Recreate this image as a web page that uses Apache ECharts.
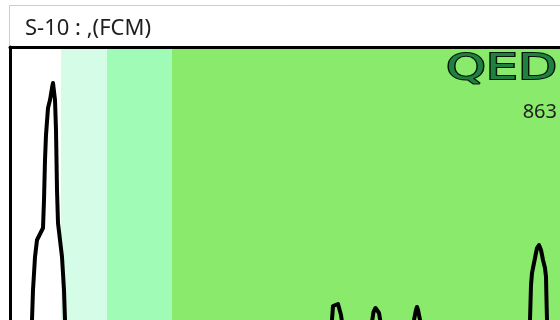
<!DOCTYPE html>
<html>
<head>
<meta charset="utf-8">
<script src="https://cdn.jsdelivr.net/npm/echarts@6/dist/echarts.min.js"></script>
<style>
html, body { margin: 0; padding: 0; background: #fff; }
#main { width: 560px; height: 320px; }
</style>
</head>
<body>
<div id="main"></div>
<script>
// histogram trace (channel, count)
var channels = [0, 36, 42, 44, 46, 50, 54, 60, 66, 68, 70, 72, 76, 80, 84, 86, 88, 90, 92, 94, 96, 100, 104, 108, 110, 114, 120,
  200, 320, 450, 560, 642, 644, 646, 648, 656, 660, 662, 664, 668,
  720, 724, 727, 731, 735, 738, 741, 746,
  804, 808, 812, 814, 816, 820, 824,
  900, 980, 1030, 1036, 1040, 1042, 1044, 1046, 1050, 1054, 1058, 1062, 1066, 1070, 1072, 1073, 1074, 1078, 1090, 1100];
var counts = [0, 0, 10, 20, 50, 83, 100, 106, 112, 140, 180, 205, 232, 240, 252, 257, 255, 240, 210, 150, 117, 100, 83, 50, 20, 5, 0,
  2, 4, 3, 5, 5, 20, 34, 35, 36, 34, 25, 18, 5,
  5, 18, 28, 32, 32, 27, 18, 5,
  5, 20, 30, 33, 30, 20, 5,
  4, 3, 5, 10, 20, 55, 67, 72, 82, 92, 95, 90, 80, 72, 63, 40, 20, 8, 3, 2];

// gate regions along the channel axis
var gateEdges = [0, 102, 194, 324, 1100];
var gateColors = ['#ffffff', '#d4fce6', '#a0fbb6', '#8aea6c'];

var titleText = 'S-10 : ,(FCM)';
var brandText = 'QED';
var totalText = '863';

var chart = echarts.init(document.getElementById('main'));

var points = channels.map(function (c, i) { return [c, counts[i]]; });
var gates = [];
for (var i = 0; i < gateColors.length; i++) {
  gates.push([
    { xAxis: gateEdges[i], itemStyle: { color: gateColors[i] } },
    { xAxis: gateEdges[i + 1] }
  ]);
}

var option = {
  animation: false,
  grid: { left: 10, right: 0, top: 47, bottom: 0 },
  xAxis: {
    type: 'value',
    position: 'top',
    min: 0,
    max: 1100,
    z: 10,
    axisLine: { show: true, onZero: false, lineStyle: { color: '#000', width: 3 } },
    axisTick: { show: false },
    axisLabel: { show: false },
    splitLine: { show: false }
  },
  yAxis: {
    type: 'value',
    min: 20,
    max: 293,
    z: 10,
    axisLine: { show: true, onZero: false, lineStyle: { color: '#000', width: 3 } },
    axisTick: { show: false },
    axisLabel: { show: false },
    splitLine: { show: false }
  },
  series: [{
    type: 'line',
    data: points,
    symbol: 'none',
    clip: true,
    lineStyle: { color: '#000', width: 4, join: 'round' },
    markArea: {
      silent: true,
      data: gates
    }
  }],
  graphic: [
    { type: 'line', z: 100, shape: { x1: 9.5, y1: 5.5, x2: 560, y2: 5.5 }, style: { stroke: '#cdcdcd', lineWidth: 1 } },
    { type: 'line', z: 100, shape: { x1: 9.5, y1: 5.5, x2: 9.5, y2: 46 }, style: { stroke: '#cdcdcd', lineWidth: 1 } },
    {
      type: 'text', z: 100, x: 25, y: 29,
      style: { text: titleText, font: '22px "Noto Sans"', fill: '#1e1e1e', verticalAlign: 'middle' }
    },
    {
      type: 'text', z: 100, x: 557, y: 70, scaleX: 1.45,
      style: {
        text: brandText, font: '35px "DejaVu Sans"', fill: '#1f8040',
        stroke: '#031508', lineWidth: 2, align: 'right', verticalAlign: 'middle'
      }
    },
    {
      type: 'text', z: 100, x: 557, y: 112,
      style: { text: totalText, font: '20px "Noto Sans"', fill: '#1e1e1e', align: 'right', verticalAlign: 'middle' }
    }
  ]
};

chart.setOption(option);
</script>
</body>
</html>
